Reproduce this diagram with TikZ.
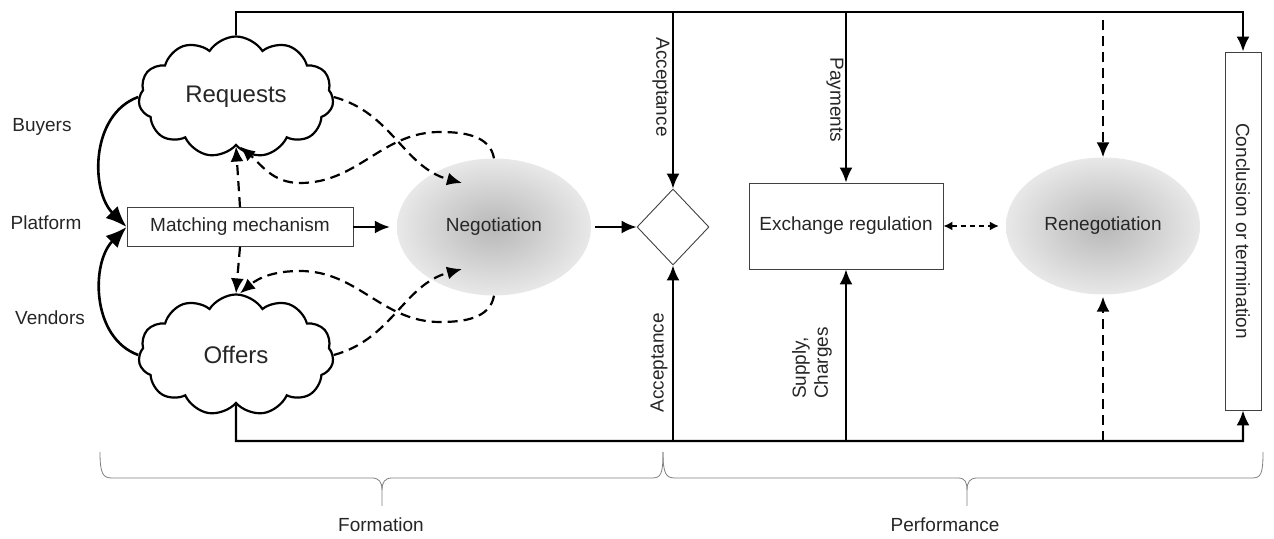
\documentclass[tikz,border=0pt]{standalone}
\usepackage{fontspec}
\setmainfont{Liberation Sans}
\usetikzlibrary{arrows.meta,shapes.symbols,shapes.geometric}

\tikzset{
  lbl/.style={font=\fontsize{19}{22}\selectfont, text=black!85},
  puff/.style={cloud, cloud puffs=11, cloud puff arc=115, aspect=1.6, draw, line width=2.2pt,
    minimum width=195pt, minimum height=121pt, font=\fontsize{24}{28}\selectfont, text=black!85},
  blob/.style={ellipse, minimum width=194pt, minimum height=137pt, inner color=black!28,
    outer color=black!9, lbl},
  box/.style={draw=black!75, line width=0.9pt, lbl},
  flow/.style={line width=2.2pt, -{Latex[length=15pt,width=13pt]}},
  bigflow/.style={line width=2.6pt, -{Latex[length=21pt,width=17pt]}},
  dflow/.style={flow, dash pattern=on 10pt off 6pt},
  bracket/.style={draw=black!50, line width=0.8pt}
}

\begin{document}
\begin{tikzpicture}[x=1pt,y=1pt]
  \useasboundingbox (0,0) rectangle (1274,538);

  % side labels
  \node[lbl] (buy) at (42,411) {Buyers};
  \node[lbl] (plat) at (46,315) {Platform};
  \node[lbl] (vend) at (50,220) {Vendors};

  % formation
  \node[puff] (req) at (236,441) {Requests};
  \node[puff] (off) at (236,183) {Offers};
  \node[box, minimum width=226pt, minimum height=39pt] (match) at (240,311) {Matching mechanism};
  \node[blob] (neg) at (494,311) {Negotiation};
  \node[diamond, draw=black!75, line width=0.9pt, minimum width=72pt, minimum height=76pt, inner sep=0pt] (dec) at (673,311) {};

  % performance
  \node[box, minimum width=194pt, minimum height=86pt] (exch) at (846,312) {Exchange regulation};
  \node[blob] (reneg) at (1103,312) {Renegotiation};
  \node[box, rotate=-90, minimum width=358pt, minimum height=36pt] (concl) at (1243,307) {Conclusion or termination};

  \coordinate (tl) at (236,526);
  \coordinate (bl) at (236,97);
  \coordinate (rtop) at (1103,518);

  % frame
  \draw[flow] (req.north) -- (tl) -| (concl.west);
  \draw[flow] (off.south) -- (bl) -| (concl.east);

  % left arrows
  \draw[bigflow] (req.west) to[out=200, in=135] (match.west);
  \draw[bigflow] (off.west) to[out=160, in=225] (match.west);
  \draw[dflow] (match.north) -- (req.south);
  \draw[dflow] (match.south) -- (off.north);
  \draw[flow, shorten >=7pt] (match.east) -- (neg.west);

  % dashed loops
  \draw[dflow] (req.east) to[out=-15, in=165] ([shift={(-32,44)}]neg.center);
  \draw[dflow] (neg.north) to[out=100, in=0] (440,406) to[out=180, in=0] (300,355) to[out=180, in=-40] ([xshift=4pt]req.south);
  \draw[dflow] (off.east) to[out=15, in=195] ([shift={(-32,-42)}]neg.center);
  \draw[dflow] (neg.south) to[out=-100, in=0] (440,216) to[out=180, in=0] (300,267) to[out=180, in=40] ([xshift=4pt]off.north);

  \draw[flow, shorten <=4pt] (neg.east) -- (dec.west);

  % acceptance
  \draw[flow] (tl -| dec) -- (dec.north);
  \draw[flow] (bl -| dec) -- (dec.south);
  \node[lbl, rotate=-90] (acc1) at (661,451) {Acceptance};
  \node[lbl, rotate=90] (acc2) at (659,175) {Acceptance};

  % payments and supply
  \draw[flow] (tl -| exch.north) -- (exch.north);
  \draw[flow] (bl -| exch.south) -- (exch.south);
  \node[lbl, rotate=-90] (pay) at (835,438) {Payments};
  \node[lbl, rotate=90, align=left] (sup) at (812,175) {Supply,\\Charges};

  % renegotiation
  \draw[line width=1.5pt, dash pattern=on 5pt off 4pt, {Latex[length=9pt,width=9pt]}-{Latex[length=9pt,width=9pt]}, shorten >=7pt] (exch.east) -- (reneg.west);
  \draw[dflow] (rtop) -- (reneg.north);
  \draw[dflow, shorten >=2pt] (bl -| reneg.south) -- (reneg.south);

  % braces
  \draw[bracket] (100,86) .. controls (100,64) and (103,60) .. (112,60) -- (372,60) .. controls (379,60) and (382,56) .. (382,48) -- (382,32);
  \draw[bracket] (382,48) .. controls (382,56) and (385,60) .. (392,60) -- (652,60) .. controls (661,60) and (663,64) .. (663,86);
  \draw[bracket] (663,86) .. controls (663,64) and (666,60) .. (675,60) -- (958,60) .. controls (965,60) and (967,56) .. (967,48) -- (967,32);
  \draw[bracket] (967,48) .. controls (967,56) and (970,60) .. (977,60) -- (1252,60) .. controls (1261,60) and (1263,64) .. (1263,86);
  \node[lbl] (form) at (381,13) {Formation};
  \node[lbl] (perf) at (945,13) {Performance};
\end{tikzpicture}
\end{document}
